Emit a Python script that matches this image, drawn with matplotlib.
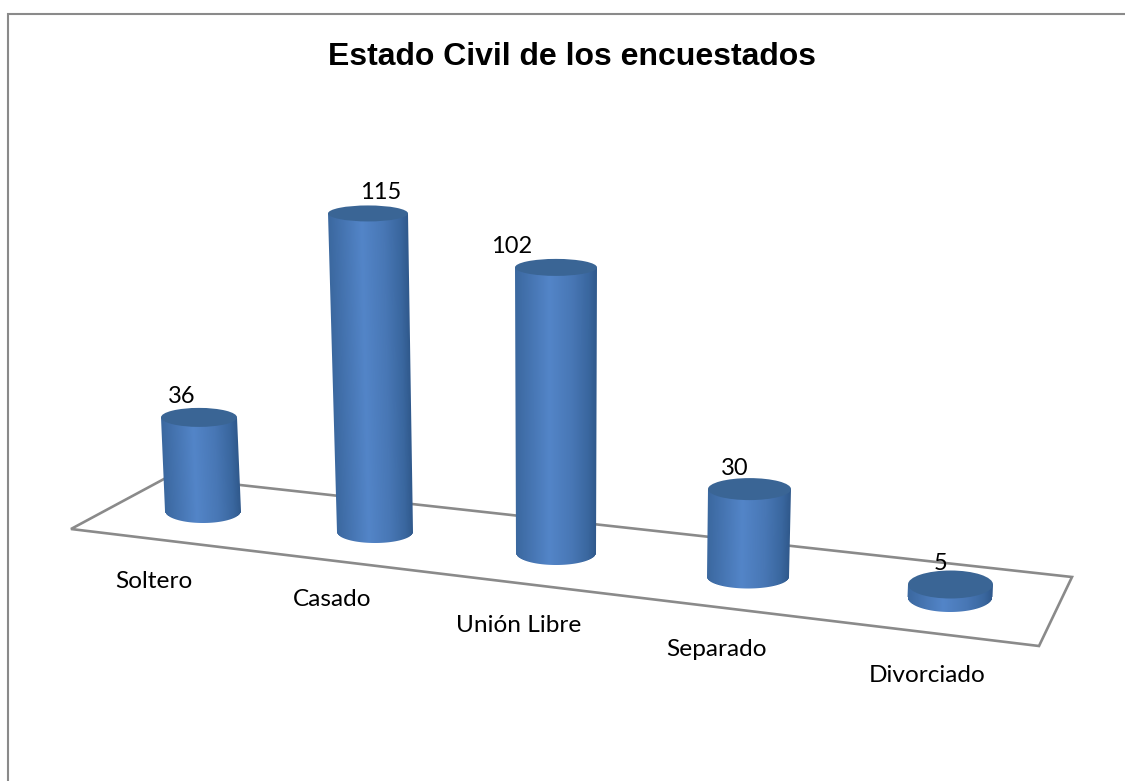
import numpy as np
import matplotlib
matplotlib.use("Agg")
import matplotlib.pyplot as plt
from matplotlib.colors import LinearSegmentedColormap
from matplotlib.patches import Ellipse

categories = ["Soltero", "Casado", "Unión Libre", "Separado", "Divorciado"]
values = [36, 115, 102, 30, 5]

# cylinder geometry in pixels, the floor is seen in perspective so each column
# has its own units-to-pixels factor
base_x = [203, 375, 556, 748, 950]
base_y = [511, 532, 553, 577, 597]
top_dx = [-4, -7, 0, 1.5, 0.5]
px_per_unit = [2.6, 2.77, 2.8, 2.93, 2.5]
rx_top = [38, 40, 41, 41.5, 42.5]
rx_bottom = [38, 38, 40, 41, 42.5]
ry_top = [9.5, 8, 8.5, 11, 14]
ry_bottom = [12, 11, 12, 11.5, 15]

# label positions
value_dx = [-17, 13, -44, -15, -10]
cat_x = [154, 332, 519, 716, 927]
cat_y = [581, 600, 625, 649, 675]

floor_x = [71, 167.7, 1072, 1039]
floor_y = [529, 477, 577, 646]

GREY = "#8a8a8a"
side_cmap = LinearSegmentedColormap.from_list(
    "side", [(0, "#3b689f"), (0.12, "#4270ab"), (0.42, "#5385c8"),
             (0.7, "#4877b5"), (0.9, "#3a679f"), (1, "#30598c")])

plt.rcParams["font.family"] = ["Lato", "DejaVu Sans"]

fig = plt.figure(figsize=(11.25, 7.81), dpi=100)
ax = fig.add_axes([0, 0, 1, 1])

# chart frame, only top and left show
ax.plot([7.5, 7.5, 1125], [781, 14, 14], color=GREY, lw=1.5, solid_joinstyle="miter")

ax.fill(floor_x, floor_y, facecolor="white", edgecolor=GREY, lw=1.9, zorder=1)


def draw_cylinder(i):
    height = values[i] * px_per_unit[i]
    x_bottom = base_x[i]
    y_bottom = base_y[i]
    x_top = x_bottom + top_dx[i]
    y_top = y_bottom - height

    # shaded side as an RGBA image: colour goes with the position across the
    # column, alpha gives the soft outline
    x0 = int(min(x_top - rx_top[i], x_bottom - rx_bottom[i])) - 2
    x1 = int(max(x_top + rx_top[i], x_bottom + rx_bottom[i])) + 3
    y0 = int(y_top) - 1
    y1 = int(y_bottom + ry_bottom[i]) + 3
    gx, gy = np.meshgrid(np.arange(x0, x1) + 0.5, np.arange(y0, y1) + 0.5)

    t = np.clip((gy - y_top) / height, 0, 1)
    cx = x_top + (x_bottom - x_top) * t
    rx = rx_top[i] + (rx_bottom[i] - rx_top[i]) * t
    across = (gx - cx) / rx

    rgba = side_cmap(np.clip((across + 1) / 2, 0, 1))
    edge = np.clip(np.sqrt(np.clip(1 - across ** 2, 0, 1)), 0, 1)
    floor_edge = y_bottom + ry_bottom[i] * edge
    alpha = np.clip(rx - np.abs(gx - cx) + 0.5, 0, 1)
    alpha = alpha * np.clip(floor_edge - gy + 0.5, 0, 1) * np.clip(gy - y_top + 0.5, 0, 1)
    rgba[..., 3] = alpha

    ax.imshow(rgba, extent=(x0, x1, y1, y0), interpolation="nearest", aspect="auto",
              zorder=3 + i)

    ax.add_patch(Ellipse((x_top, y_top), 2 * rx_top[i], 2 * ry_top[i],
                         facecolor="#3a6595", edgecolor="none", zorder=3 + i))

    ax.text(x_top + value_dx[i], y_top - 21, str(values[i]), fontsize=17,
            ha="center", va="center", color="black", zorder=20)


for i in range(len(values)):
    draw_cylinder(i)
    ax.text(cat_x[i], cat_y[i], categories[i], fontsize=17.6, ha="center",
            va="center", color="black", zorder=20)

ax.text(572, 57, "Estado Civil de los encuestados", fontsize=23, fontweight="bold",
        family="Liberation Sans", ha="center", va="center", color="black")

ax.set_xlim(0, 1125)
ax.set_ylim(781, 0)
ax.axis("off")

fig.savefig("out.png", dpi=100, facecolor="white")
